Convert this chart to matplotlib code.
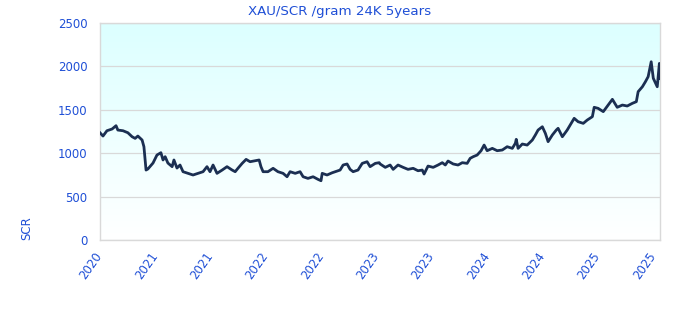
import numpy as np
import matplotlib
matplotlib.use("Agg")
import matplotlib.pyplot as plt
from matplotlib.colors import LinearSegmentedColormap
from matplotlib.transforms import ScaledTranslation

# XAU/SCR price per gram (24K)
day_offsets = [0, 10, 23, 40, 53, 59, 76, 92, 106, 116, 125, 139, 145, 152, 158,
               175, 188, 201, 208, 215, 224, 238, 244, 254, 264, 274, 290, 307,
               323, 340, 353, 363, 373, 386, 403, 419, 436, 446, 455, 469, 482,
               495, 512, 525, 531, 538, 554, 571, 587, 604, 617, 627, 644, 660,
               670, 686, 703, 719, 729, 733, 749, 766, 776, 792, 802, 815, 825,
               835, 851, 865, 881, 891, 908, 921, 924, 941, 957, 967, 983, 1000,
               1016, 1033, 1049, 1063, 1069, 1082, 1099, 1115, 1129, 1139, 1148,
               1165, 1181, 1195, 1211, 1221, 1231, 1244, 1257, 1267, 1277, 1294,
               1310, 1327, 1343, 1360, 1370, 1373, 1379, 1393, 1409, 1426, 1436,
               1445, 1459, 1469, 1478, 1492, 1505, 1511, 1525, 1541, 1551, 1564,
               1577, 1594, 1607, 1624, 1630, 1643, 1660, 1676, 1690, 1706, 1723,
               1739, 1756, 1769, 1775, 1789, 1799, 1808, 1818, 1825, 1838, 1845,
               1848]
prices = [1236, 1198, 1259, 1279, 1317, 1267, 1259, 1236, 1190, 1171, 1198, 1152,
          1075, 806, 818, 887, 979, 1006, 922, 960, 887, 845, 922, 829, 864, 787,
          768, 749, 768, 787, 845, 787, 864, 768, 806, 845, 806, 787, 826, 883,
          929, 902, 914, 922, 845, 787, 787, 826, 787, 768, 729, 787, 768, 787,
          729, 710, 729, 699, 683, 768, 749, 775, 787, 806, 864, 876, 814, 787,
          806, 883, 902, 845, 883, 891, 876, 837, 864, 814, 864, 837, 814, 826,
          798, 806, 760, 852, 837, 864, 891, 864, 910, 876, 864, 891, 883, 941,
          960, 979, 1029, 1094, 1029, 1056, 1029, 1037, 1075, 1056, 1114, 1160,
          1056, 1106, 1094, 1152, 1210, 1267, 1305, 1229, 1133, 1210, 1267, 1287,
          1190, 1267, 1325, 1402, 1363, 1344, 1382, 1421, 1529, 1517, 1479, 1555,
          1621, 1529, 1555, 1544, 1575, 1594, 1709, 1766, 1824, 1882, 2054, 1863,
          1766, 2035, 1863]

tick_labels = ['2020', '2021', '2021', '2022', '2022', '2023', '2023',
               '2024', '2024', '2025', '2025']
y_ticks = [0, 500, 1000, 1500, 2000, 2500]

text_blue = '#1f4fd6'
line_col = '#1b2f52'
grid_col = '#d9d9d9'

fig = plt.figure(figsize=(6.8, 3.2), dpi=100)
ax = fig.add_axes([0.147, 0.25, 0.824, 0.678])

# background gradient (light cyan at top to white at bottom)
grad = np.linspace(0, 1, 256).reshape(-1, 1)
cmap = LinearSegmentedColormap.from_list('bg', ['#ffffff', '#dcffff'])
ax.imshow(grad, cmap=cmap, origin='lower', aspect='auto',
          extent=[0, day_offsets[-1], 0, 2500], zorder=0)

ax.plot(day_offsets, prices, color=line_col, linewidth=2, zorder=3)

ax.set_xlim(0, day_offsets[-1])
ax.set_ylim(0, 2500)
ax.set_yticks(y_ticks)
ax.set_xticks(np.arange(len(tick_labels)) * 182.5)
ax.set_xticklabels(tick_labels, rotation=55, ha='right', rotation_mode='anchor')
ax.tick_params(axis='both', length=0, labelsize=8.5, labelcolor=text_blue)
ax.tick_params(axis='y', pad=9)
ax.tick_params(axis='x', pad=7)
# nudge x labels a bit to the left like the reference
shift = ScaledTranslation(-4 / 72, 0, fig.dpi_scale_trans)
for lbl in ax.get_xticklabels():
    lbl.set_transform(lbl.get_transform() + shift)

ax.grid(axis='y', color=grid_col, linewidth=0.9, zorder=1)
ax.set_axisbelow(False)
for s in ax.spines.values():
    s.set_color(grid_col)
    s.set_linewidth(1)

fig.text(0.5, 0.965, 'XAU/SCR /gram 24K 5years', color=text_blue,
         fontsize=9.6, ha='center', va='center')
ax.set_ylabel('SCR', color=text_blue, fontsize=8.5, loc='bottom', labelpad=18)

fig.savefig('out.png', dpi=100)
